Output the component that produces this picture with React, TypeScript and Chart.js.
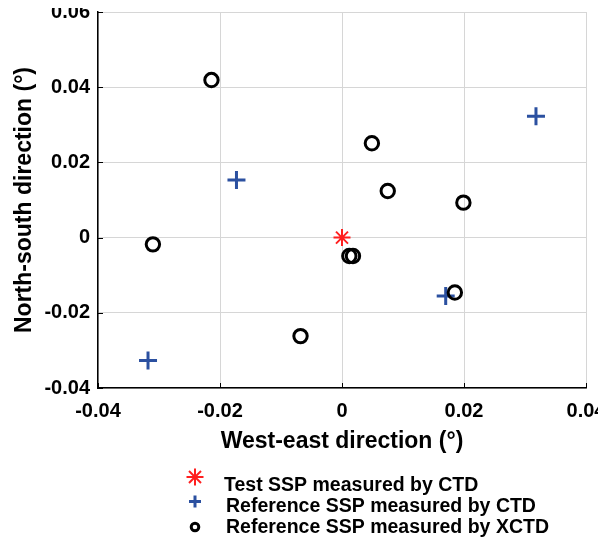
import React, { useEffect, useRef } from "react";
import { Chart, registerables } from "chart.js";

Chart.register(...registerables);

// ---- data ----
const testCtdX = [0];
const testCtdY = [0];

const refCtdX = [-0.0173, 0.0318, -0.0318, 0.017];
const refCtdY = [0.0153, 0.0323, -0.0327, -0.0155];

const refXctdX = [-0.0214, 0.0049, 0.0075, 0.0199, -0.031, -0.0068, 0.0012, 0.0018, 0.0185];
const refXctdY = [0.0419, 0.0251, 0.0124, 0.0093, -0.0018, -0.0262, -0.0049, -0.0049, -0.0146];

const legendLabels = [
  "Test SSP measured by CTD",
  "Reference SSP measured by CTD",
  "Reference SSP measured by XCTD",
];

const xTitle = "West-east direction (°)";
const yTitle = "North-south direction (°)";

const FONT = "'Liberation Sans', Arial, sans-serif";
const RED = "#FF1F1F";
const BLUE = "#2B50A0";
const BLACK = "#000000";

const toPts = (xs: number[], ys: number[]) => xs.map((x, i) => ({ x, y: ys[i] }));

const fmt = (v: number) => {
  const r = Math.round(v * 100) / 100;
  if (Math.abs(r) < 1e-9) return "0";
  return r.toFixed(2);
};

const innerTicks = {
  id: "innerTicks",
  afterDatasetsDraw(chart: any) {
    const { ctx, chartArea } = chart;
    const xs = chart.scales.x;
    const ys = chart.scales.y;
    ctx.save();
    ctx.strokeStyle = "#000";
    ctx.lineWidth = 1;
    xs.ticks.forEach((t: any) => {
      const px = Math.round(xs.getPixelForValue(t.value)) + 0.5;
      ctx.beginPath();
      ctx.moveTo(px, chartArea.bottom);
      ctx.lineTo(px, chartArea.bottom - 5);
      ctx.stroke();
    });
    ys.ticks.forEach((t: any) => {
      const py = Math.round(ys.getPixelForValue(t.value)) + 0.5;
      ctx.beginPath();
      ctx.moveTo(chartArea.left, py);
      ctx.lineTo(chartArea.left + 5, py);
      ctx.stroke();
    });
    ctx.restore();
  },
};

const customLegend = {
  id: "customLegend",
  afterDraw(chart: any) {
    const { ctx } = chart;
    ctx.save();
    const mx = 195;
    const marks = [477, 501.5, 527];
    const baselines = [490.7, 511.7, 533.3];
    const textX = [224, 226, 226];
    // star
    ctx.strokeStyle = RED;
    ctx.lineWidth = 2;
    const r = 8.5;
    for (let k = 0; k < 4; k++) {
      const a = (k * Math.PI) / 4;
      ctx.beginPath();
      ctx.moveTo(mx - r * Math.cos(a), marks[0] - r * Math.sin(a));
      ctx.lineTo(mx + r * Math.cos(a), marks[0] + r * Math.sin(a));
      ctx.stroke();
    }
    // plus
    ctx.strokeStyle = BLUE;
    ctx.lineWidth = 3;
    ctx.beginPath();
    ctx.moveTo(mx - 6, marks[1]);
    ctx.lineTo(mx + 6, marks[1]);
    ctx.moveTo(mx, marks[1] - 6);
    ctx.lineTo(mx, marks[1] + 6);
    ctx.stroke();
    // circle
    ctx.strokeStyle = BLACK;
    ctx.lineWidth = 3;
    ctx.beginPath();
    ctx.arc(mx, marks[2], 3.8, 0, Math.PI * 2);
    ctx.stroke();
    // text
    ctx.fillStyle = "#000";
    ctx.font = `bold 19.5px ${FONT}`;
    ctx.textAlign = "left";
    ctx.textBaseline = "alphabetic";
    legendLabels.forEach((l, i) => ctx.fillText(l, textX[i], baselines[i]));
    ctx.restore();
  },
};

export default function App() {
  const ref = useRef<HTMLCanvasElement | null>(null);

  useEffect(() => {
    document.body.style.overflow = "hidden";
    if (!ref.current) return;
    const chart = new Chart(ref.current, {
      type: "scatter",
      data: {
        datasets: [
          {
            label: legendLabels[0],
            data: toPts(testCtdX, testCtdY),
            pointStyle: "star",
            pointRadius: 8.5,
            pointBorderWidth: 2,
            borderColor: RED,
            backgroundColor: RED,
            order: 2,
          },
          {
            label: legendLabels[1],
            data: toPts(refCtdX, refCtdY),
            pointStyle: "cross",
            pointRadius: 9,
            pointBorderWidth: 3,
            borderColor: BLUE,
            backgroundColor: BLUE,
            order: 1,
          },
          {
            label: legendLabels[2],
            data: toPts(refXctdX, refXctdY),
            pointStyle: "circle",
            pointRadius: 6.7,
            pointBorderWidth: 3,
            borderColor: BLACK,
            backgroundColor: "rgba(0,0,0,0)",
            order: 0,
          },
        ],
      },
      options: {
        responsive: false,
        animation: false,
        devicePixelRatio: 1,
        layout: { padding: { left: 0, right: 20, top: 12, bottom: 85 } },
        plugins: {
          legend: { display: false },
          tooltip: { enabled: false },
        },
        scales: {
          x: {
            type: "linear",
            position: "bottom",
            min: -0.04,
            max: 0.04,
            afterFit: (s: any) => {
              s.height = 67;
              s.paddingLeft = 0;
              s.paddingRight = 0;
            },
            ticks: {
              stepSize: 0.02,
              padding: 11,
              color: "#000",
              font: { family: FONT, size: 20, weight: "bold" },
              callback: (v: any) => fmt(Number(v)),
              maxRotation: 0,
            },
            grid: { color: "#d6d6d6", lineWidth: 1, drawTicks: false },
            border: { display: true, color: "#000", width: 1.5 },
            title: {
              display: true,
              text: xTitle,
              color: "#000",
              font: { family: FONT, size: 23, weight: "bold" },
              padding: { top: 0, bottom: 0 },
            },
          },
          y: {
            type: "linear",
            position: "left",
            min: -0.04,
            max: 0.06,
            afterFit: (s: any) => {
              s.width = 98;
              s.paddingTop = 0;
              s.paddingBottom = 0;
            },
            ticks: {
              stepSize: 0.02,
              padding: 8,
              color: "#000",
              font: { family: FONT, size: 20, weight: "bold" },
              callback: (v: any) => fmt(Number(v)),
            },
            grid: { color: "#d6d6d6", lineWidth: 1, drawTicks: false },
            border: { display: true, color: "#000", width: 1.5 },
            title: {
              display: true,
              text: yTitle,
              color: "#000",
              font: { family: FONT, size: 23, weight: "bold" },
              padding: { top: 11, bottom: 0 },
            },
          },
        },
      },
      plugins: [innerTicks, customLegend],
    } as any);
    return () => chart.destroy();
  }, []);

  return (
    <div style={{ width: 606, height: 540, marginTop: -8, marginLeft: -8 }}>
      <canvas ref={ref} width={606} height={540} style={{ display: "block" }} />
    </div>
  );
}
